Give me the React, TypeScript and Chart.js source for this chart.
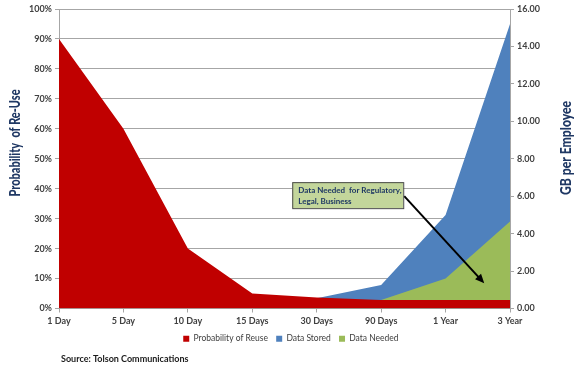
import React, { useEffect, useRef } from "react";
import { Chart, registerables } from "chart.js";

Chart.register(...registerables);

const categories = ["1 Day", "5 Day", "10 Day", "15 Days", "30 Days", "90 Days", "1 Year", "3 Year"];
const probabilityOfReuse = [90, 60, 20, 5, 3.7, 2.8, 2.8, 2.8];
const dataStored = [0, 0, 0, 0, 0.55, 1.25, 5.0, 15.2];
const dataNeeded = [0, 0, 0, 0, 0.3, 0.45, 1.6, 4.65];
const leftTicks = [0, 10, 20, 30, 40, 50, 60, 70, 80, 90, 100];
const rightTicks = [0, 2, 4, 6, 8, 10, 12, 14, 16];
const leftTitle = "Probability  of Re-Use";
const rightTitle = "GB per Employee";
const annotationLines = ["Data Needed  for Regulatory,", "Legal, Business"];
const sourceText = "Source: Tolson Communications";

const FONT = "Lato, 'Liberation Sans', sans-serif";
const NAVY = "#1F3864";
const TICK = "#404040";

function drawVerticalTitle(ctx: any, text: string, cx: number, cy: number, targetLen: number) {
  ctx.save();
  ctx.font = "900 15px " + FONT;
  const w = ctx.measureText(text).width;
  ctx.translate(cx, cy);
  ctx.rotate(-Math.PI / 2);
  ctx.scale(targetLen / w, 1);
  ctx.fillStyle = NAVY;
  ctx.textAlign = "center";
  ctx.textBaseline = "middle";
  ctx.fillText(text, 0, 0);
  ctx.restore();
}

const overlayPlugin = {
  id: "overlay",
  afterDatasetsDraw(chart: any) {
    const ctx = chart.ctx;
    const xs = chart.scales.x;
    const y1 = chart.scales.y1;
    const bx = xs.getPixelForValue(3.62);
    const by = y1.getPixelForValue(6.75);
    const bw = 111;
    const bh = 26;
    ctx.save();
    const sx = bx + bw + 1;
    const sy = by + bh / 2 + 1;
    const ex = xs.getPixelForValue(6.6);
    const ey = y1.getPixelForValue(1.35);
    ctx.strokeStyle = "#000";
    ctx.fillStyle = "#000";
    ctx.lineWidth = 2;
    const ang = Math.atan2(ey - sy, ex - sx);
    const hl = 10;
    ctx.beginPath();
    ctx.moveTo(sx, sy);
    ctx.lineTo(ex - Math.cos(ang) * hl * 0.8, ey - Math.sin(ang) * hl * 0.8);
    ctx.stroke();
    ctx.beginPath();
    ctx.moveTo(ex, ey);
    ctx.lineTo(ex - hl * Math.cos(ang - 0.42), ey - hl * Math.sin(ang - 0.42));
    ctx.lineTo(ex - hl * Math.cos(ang + 0.42), ey - hl * Math.sin(ang + 0.42));
    ctx.closePath();
    ctx.fill();
    ctx.fillStyle = "#C3D69B";
    ctx.strokeStyle = "#4a4a4a";
    ctx.lineWidth = 1;
    ctx.fillRect(bx, by, bw, bh);
    ctx.strokeRect(bx + 0.5, by + 0.5, bw, bh);
    ctx.fillStyle = NAVY;
    ctx.font = "bold 8px " + FONT;
    ctx.textBaseline = "middle";
    ctx.textAlign = "left";
    ctx.fillText(annotationLines[0], bx + 6, by + 8);
    ctx.fillText(annotationLines[1], bx + 6, by + 19);
    ctx.restore();
  },
  afterDraw(chart: any) {
    const ctx = chart.ctx;
    drawVerticalTitle(ctx, leftTitle, 15, 143, 107);
    drawVerticalTitle(ctx, rightTitle, 566, 148, 94);
    ctx.save();
    ctx.fillStyle = "#1a1a1a";
    ctx.font = "bold 9px " + FONT;
    ctx.textBaseline = "middle";
    ctx.textAlign = "left";
    ctx.fillText(sourceText, 61, 359);
    ctx.restore();
  },
};

export default function App() {
  const ref = useRef<HTMLCanvasElement | null>(null);
  useEffect(() => {
    if (!ref.current) return;
    const chart = new Chart(ref.current, {
      type: "line",
      data: {
        labels: categories,
        datasets: [
          {
            label: "Probability of Reuse",
            data: probabilityOfReuse,
            yAxisID: "y",
            backgroundColor: "#C00000",
            borderColor: "#C00000",
            borderWidth: 0,
            pointRadius: 0,
            fill: "origin",
            order: 0,
          },
          {
            label: "Data Stored",
            data: dataStored,
            yAxisID: "y1",
            backgroundColor: "#4F81BD",
            borderColor: "#4F81BD",
            borderWidth: 0,
            pointRadius: 0,
            fill: "origin",
            order: 2,
          },
          {
            label: "Data Needed",
            data: dataNeeded,
            yAxisID: "y1",
            backgroundColor: "#9BBB59",
            borderColor: "#9BBB59",
            borderWidth: 0,
            pointRadius: 0,
            fill: "origin",
            order: 1,
          },
        ],
      },
      options: {
        responsive: false,
        animation: false,
        layout: { padding: { top: 9, left: 0, right: 0, bottom: 18 } },
        plugins: {
          legend: {
            position: "bottom",
            labels: {
              boxWidth: 6,
              boxHeight: 6,
              font: { size: 8.5, family: FONT },
              color: TICK,
              padding: 6,
              sort: (a: any, b: any) => a.datasetIndex - b.datasetIndex,
              generateLabels: (c: any) => {
                const items = Chart.defaults.plugins.legend.labels.generateLabels(c);
                return items.map((it: any) => ({ ...it, text: it.text + " " }));
              },
            },
          },
          tooltip: { enabled: false },
        },
        scales: {
          x: {
            offset: false,
            afterFit: (s: any) => { s.height = 20; },
            grid: { drawOnChartArea: false, drawTicks: true, tickLength: 4, color: "#A6A6A6" },
            border: { color: "#A6A6A6" },
            ticks: { font: { size: 9, weight: "bold", family: FONT }, color: TICK, maxRotation: 0, padding: 3 },
          },
          y: {
            position: "left",
            min: 0,
            max: 100,
            afterFit: (s: any) => { s.width = 59; },
            afterBuildTicks: (s: any) => { s.ticks = leftTicks.map((v) => ({ value: v })); },
            grid: { color: "#A6A6A6", tickLength: 4 },
            border: { color: "#A6A6A6" },
            ticks: { font: { size: 9, weight: "bold", family: FONT }, color: TICK, callback: (v: any) => v + "%", padding: 3 },
          },
          y1: {
            position: "right",
            min: 0,
            max: 16,
            afterFit: (s: any) => { s.width = 74; },
            afterBuildTicks: (s: any) => { s.ticks = rightTicks.map((v) => ({ value: v })); },
            grid: { drawOnChartArea: false, tickLength: 4, color: "#A6A6A6" },
            border: { color: "#A6A6A6" },
            ticks: { font: { size: 9, weight: "bold", family: FONT }, color: TICK, callback: (v: any) => Number(v).toFixed(2), padding: 3 },
          },
        },
      },
      plugins: [overlayPlugin],
    });
    return () => chart.destroy();
  }, []);
  return (
    <div style={{ position: "fixed", left: 0, top: 0, width: 584, height: 371, background: "#fff" }}>
      <canvas ref={ref} width={584} height={371} style={{ width: 584, height: 371 }} />
    </div>
  );
}
